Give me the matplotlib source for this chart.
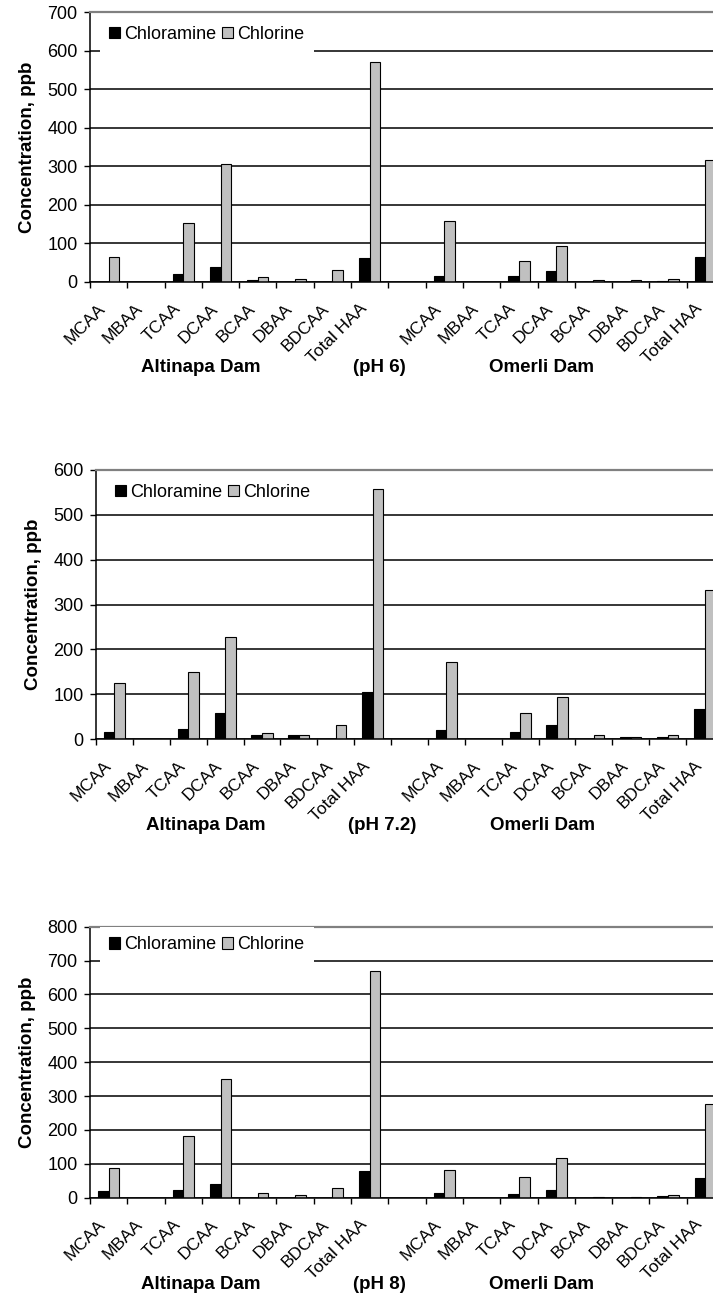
import matplotlib

matplotlib.use("Agg")
import matplotlib.pyplot as plt
import numpy as np

plt.rcParams["font.family"] = ["Liberation Sans", "DejaVu Sans"]

COMPOUNDS = ["MCAA", "MBAA", "TCAA", "DCAA", "BCAA", "DBAA", "BDCAA", "Total HAA"]
SERIES = ["Chloramine", "Chlorine"]
PH_LABELS = ["(pH 6)", "(pH 7.2)", "(pH 8)"]
Y_MAX = [700, 600, 800]

# pH 6
altinapa_chloramine_ph6 = [0, 0, 19, 39, 4, 0, 0, 61]
altinapa_chlorine_ph6 = [64, 0, 153, 305, 11, 7, 30, 571]
omerli_chloramine_ph6 = [15, 0, 15, 27, 0, 0, 3, 65]
omerli_chlorine_ph6 = [158, 0, 53, 92, 4, 4, 7, 316]

# pH 7.2
altinapa_chloramine_ph72 = [15, 0, 22, 58, 8, 8, 0, 104]
altinapa_chlorine_ph72 = [126, 0, 149, 228, 14, 8, 31, 557]
omerli_chloramine_ph72 = [19, 0, 15, 32, 0, 4, 4, 68]
omerli_chlorine_ph72 = [172, 0, 57, 94, 8, 4, 8, 333]

# pH 8
altinapa_chloramine_ph8 = [19, 0, 23, 39, 0, 0, 0, 79]
altinapa_chlorine_ph8 = [87, 0, 182, 351, 13, 9, 30, 670]
omerli_chloramine_ph8 = [14, 0, 12, 22, 0, 0, 4, 57]
omerli_chlorine_ph8 = [83, 0, 60, 117, 3, 3, 7, 278]

PANELS = [
    (altinapa_chloramine_ph6, altinapa_chlorine_ph6, omerli_chloramine_ph6, omerli_chlorine_ph6),
    (altinapa_chloramine_ph72, altinapa_chlorine_ph72, omerli_chloramine_ph72, omerli_chlorine_ph72),
    (altinapa_chloramine_ph8, altinapa_chlorine_ph8, omerli_chloramine_ph8, omerli_chlorine_ph8),
]

W, H = 713, 1296
# axes boxes in pixels: left, top (y of max value), width, height
BOXES = [(90, 12.3, 634, 269.4), (96, 470, 627, 269), (90, 926.7, 634, 271)]
LEGEND_Y = [0.919, 0.916, 0.9325]
BAR_W = 1 / 3.5


def draw_panel(ax, data, ph_label, ymax, legend_y):
    alt_cm, alt_cl, om_cm, om_cl = data
    chloramine = np.array(alt_cm + [0] + om_cm, dtype=float)
    chlorine = np.array(alt_cl + [0] + om_cl, dtype=float)
    labels = COMPOUNDS + [""] + COMPOUNDS
    centers = np.arange(len(labels)) + 0.5

    ax.set_axisbelow(True)
    ax.bar(centers - BAR_W / 2, chloramine, BAR_W, color="black",
           edgecolor="black", linewidth=0.8, label=SERIES[0])
    ax.bar(centers + BAR_W / 2, chlorine, BAR_W, color="#c0c0c0",
           edgecolor="black", linewidth=0.8, label=SERIES[1])

    ax.set_xlim(0, len(labels))
    ax.set_ylim(0, ymax)
    ax.set_yticks(np.arange(0, ymax + 1, 100))
    ax.yaxis.grid(True, color="black", linewidth=1.1)
    ax.tick_params(axis="y", labelsize=13, length=4, width=1, pad=5)

    ax.set_xticks(np.arange(len(labels) + 1))
    ax.set_xticklabels([])
    ax.set_xticks(centers, minor=True)
    ax.set_xticklabels(labels, minor=True, rotation=45, ha="right", va="top",
                       fontsize=12.5)
    ax.tick_params(axis="x", which="major", length=4, width=1)
    ax.tick_params(axis="x", which="minor", length=0, pad=14)

    for side in ("left", "bottom"):
        ax.spines[side].set_color("black")
        ax.spines[side].set_linewidth(1.1)
    ax.spines["top"].set_color("#808080")
    ax.spines["top"].set_linewidth(1.6)
    ax.spines["right"].set_visible(False)

    ax.set_ylabel("Concentration, ppb", fontsize=13.5, fontweight="bold",
                  labelpad=8)

    xt = ax.get_xaxis_transform()
    for x, txt in [(2.97, "Altinapa Dam"), (7.75, ph_label), (12.1, "Omerli Dam")]:
        ax.text(x, -0.32, txt, transform=xt, ha="center", va="center",
                fontsize=13.5, fontweight="bold")

    leg = ax.legend(loc="center left", bbox_to_anchor=(0.015, legend_y), ncol=2,
                    fontsize=13, frameon=True, fancybox=False, edgecolor="none",
                    facecolor="white", framealpha=1, borderpad=0.55,
                    handlelength=0.6, handleheight=0.6, handletextpad=0.2,
                    columnspacing=0.35, borderaxespad=0)
    leg.get_frame().set_linewidth(0)
    for patch in leg.get_patches():
        patch.set_linewidth(0.8)


fig = plt.figure(figsize=(W / 100, H / 100), dpi=100)
for (left, top, width, height), data, ph, ymax, ly in zip(
        BOXES, PANELS, PH_LABELS, Y_MAX, LEGEND_Y):
    ax = fig.add_axes([left / W, 1 - (top + height) / H, width / W, height / H])
    draw_panel(ax, data, ph, ymax, ly)

fig.savefig("out.png", dpi=100)
